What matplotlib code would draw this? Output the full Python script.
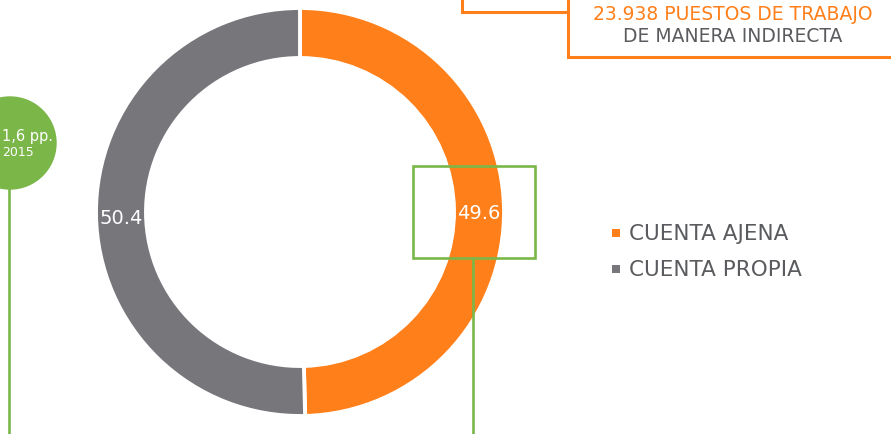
import matplotlib
matplotlib.use("Agg")
import matplotlib.pyplot as plt
from matplotlib.patches import Rectangle, Circle

# ---- data ----
categories = ["CUENTA AJENA", "CUENTA PROPIA"]
values = [49.6, 50.4]
colors = ["#FF7F1A", "#77767B"]
box_line1 = "23.938 PUESTOS DE TRABAJO"
box_line2 = "DE MANERA INDIRECTA"
bubble_line1 = "1,6 pp."
bubble_line2 = "2015"

W, H = 891, 435
ORANGE = "#FF7F1A"
GREEN = "#7AB648"
TXT = "#5A5B5E"

fig = plt.figure(figsize=(W / 100, H / 100), dpi=100)
ax = fig.add_axes([0, 0, 1, 1])

def Y(y):
    return H - y

cx, cy, R, ring = 300, 213, 204, 50
wedges, texts, autotexts = ax.pie(
    values, colors=colors, startangle=90, counterclock=False,
    center=(cx, Y(cy)), radius=R,
    wedgeprops=dict(width=ring, edgecolor="white", linewidth=2.8),
    autopct=lambda p: f"{p:.1f}", pctdistance=(R - ring / 2) / R,
    textprops=dict(color="white", fontsize=14),
)
for t in autotexts:
    x0, y0 = t.get_position()
    t.set_position((x0, y0 - 3))

ax.set_xlim(0, W)
ax.set_ylim(0, H)
ax.set_aspect("auto")
ax.axis("off")

# green rectangle around the 49.6 label and its leader line
ax.add_patch(Rectangle((413, Y(259)), 535 - 413, 259 - 167, fill=False,
                       edgecolor=GREEN, linewidth=1.9, zorder=5))
ax.plot([473, 473], [Y(259), Y(440)], color=GREEN, lw=1.9, zorder=5)

# green bubble on the left
ax.add_patch(Circle((10, Y(144)), 46, color=GREEN, zorder=4))
ax.plot([9, 9], [Y(190), Y(440)], color=GREEN, lw=1.9, zorder=4)
ax.text(2, Y(137), bubble_line1, color="white", fontsize=10.5, ha="left",
        va="center", zorder=6)
ax.text(18, Y(153), bubble_line2, color="white", fontsize=9, ha="center",
        va="center", zorder=6)

# orange box top-right
ax.plot([462, 462, 568], [Y(-5), Y(13), Y(13)], color=ORANGE, lw=2.2,
        solid_joinstyle="miter")
ax.plot([568, 568, 900], [Y(-5), Y(58), Y(58)], color=ORANGE, lw=2.2,
        solid_joinstyle="miter")
ax.text(733, Y(14), box_line1, color=ORANGE, fontsize=13.5, ha="center",
        va="center")
ax.text(733, Y(36), box_line2, color=TXT, fontsize=13.5, ha="center",
        va="center")

# legend
leg_y = [234, 270]
for lab, col, yy in zip(categories, colors, leg_y):
    ax.scatter([616], [Y(yy)], marker="s", s=38, color=col, linewidths=0)
    ax.text(629, Y(yy), lab, color=TXT, fontsize=15.5, ha="left", va="center")

fig.savefig("out.png", dpi=100)
